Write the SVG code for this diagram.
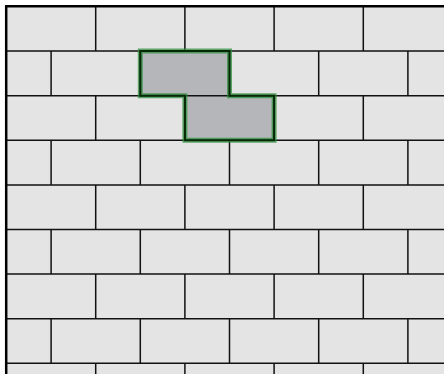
<svg xmlns="http://www.w3.org/2000/svg" width="444" height="374" viewBox="0 0 444 374">
<style>
.j{stroke:#111;stroke-width:1.5;fill:none}
.frame{stroke:#000;stroke-width:2.5;fill:none}
.hl{fill:#b5b6ba;stroke:none}
.glow{fill:none;stroke:#2f8f3e;stroke-opacity:0.75;stroke-width:5;stroke-linejoin:miter}
.core{fill:none;stroke:#062806;stroke-width:2;stroke-linejoin:miter}
</style>
<rect x="0" y="0" width="444" height="374" fill="#ffffff"/>
<rect id="wall" x="6.5" y="6.5" width="437.5" height="367.5" fill="#e4e4e4"/>
<g id="highlight-fill">
<polygon class="hl" points="140.3,51.1 229.5,51.1 229.5,95.7 274.1,95.7 274.1,140.3 184.9,140.3 184.9,95.7 140.3,95.7"/>
</g>
<g id="joints">
<path class="j" d="M6.5 51.1H444M6.5 95.7H444M6.5 140.3H444M6.5 184.9H444M6.5 229.5H444M6.5 274.1H444M6.5 318.7H444M6.5 363.3H444"/>
<path class="j" d="M95.7 6.5V51.1M184.9 6.5V51.1M274.1 6.5V51.1M363.3 6.5V51.1
M95.7 95.7V140.3M184.9 95.7V140.3M274.1 95.7V140.3M363.3 95.7V140.3
M95.7 184.9V229.5M184.9 184.9V229.5M274.1 184.9V229.5M363.3 184.9V229.5
M95.7 274.1V318.7M184.9 274.1V318.7M274.1 274.1V318.7M363.3 274.1V318.7
M95.7 363.3V374M184.9 363.3V374M274.1 363.3V374M363.3 363.3V374"/>
<path class="j" d="M51.1 51.1V95.7M140.3 51.1V95.7M229.5 51.1V95.7M318.7 51.1V95.7M407.9 51.1V95.7
M51.1 140.3V184.9M140.3 140.3V184.9M229.5 140.3V184.9M318.7 140.3V184.9M407.9 140.3V184.9
M51.1 229.5V274.1M140.3 229.5V274.1M229.5 229.5V274.1M318.7 229.5V274.1M407.9 229.5V274.1
M51.1 318.7V363.3M140.3 318.7V363.3M229.5 318.7V363.3M318.7 318.7V363.3M407.9 318.7V363.3"/>
</g>
<g id="frame">
<path class="frame" d="M6.2 374V6.2H444"/>
</g>
<g id="highlight">
<polygon class="glow" points="140.3,51.1 229.5,51.1 229.5,95.7 274.1,95.7 274.1,140.3 184.9,140.3 184.9,95.7 140.3,95.7"/>
<polygon class="core" points="140.3,51.1 229.5,51.1 229.5,95.7 274.1,95.7 274.1,140.3 184.9,140.3 184.9,95.7 140.3,95.7"/>
</g>
</svg>
